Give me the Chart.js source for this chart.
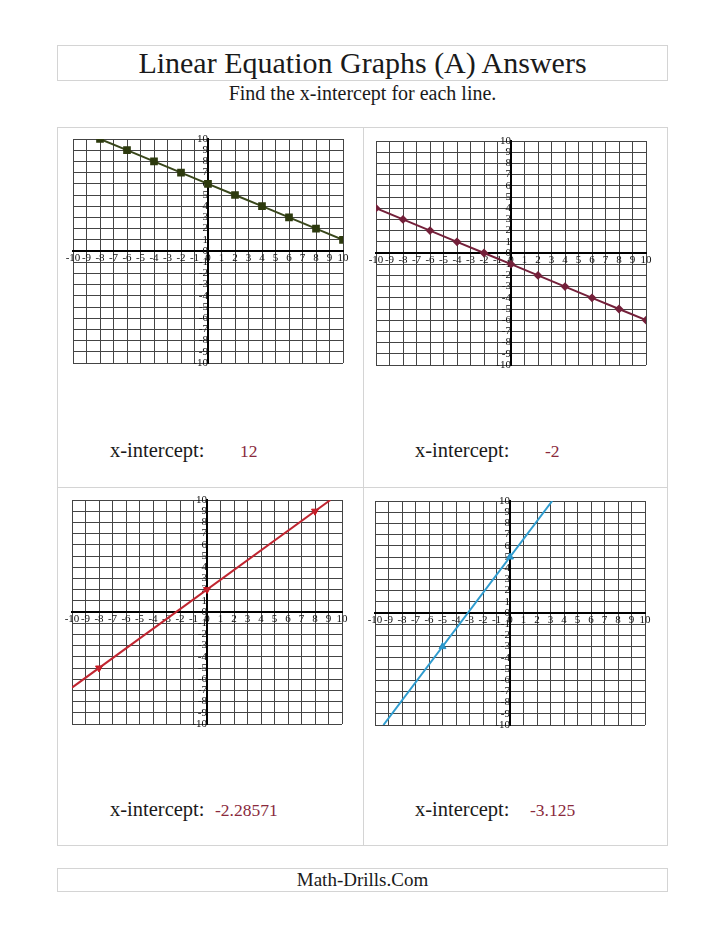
<!DOCTYPE html>
<html lang="en">
<head>
  <meta charset="UTF-8" />
  <title>Linear Equation Graphs (A) Answers</title>
  <script src="https://cdn.jsdelivr.net/npm/chart.js"></script>
  <style>
    body {
      margin: 0;
      background: #ffffff;
      font-family: "Liberation Serif", serif;
      color: #1a1a1a;
    }
    .page {
      position: relative;
      width: 728px;
      height: 942px;
      overflow: hidden;
    }
    .box {
      position: absolute;
      border: 1px solid #d4d4d4;
      box-sizing: border-box;
    }
    .title {
      left: 57px; top: 45px; width: 611px; height: 36px;
      text-align: center;
      font-size: 30px;
      line-height: 34px;
    }
    .subtitle {
      position: absolute;
      left: 57px; width: 611px; top: 82px;
      text-align: center;
      font-size: 20px;
    }
    .grid-box { left: 57px; top: 127px; width: 611px; height: 719px; }
    .vline { position: absolute; left: 363px; top: 127px; width: 1px; height: 719px; background: #d4d4d4; }
    .hline { position: absolute; left: 57px; top: 487px; width: 611px; height: 1px; background: #d4d4d4; }
    .footer {
      left: 57px; top: 868px; width: 611px; height: 24px;
      text-align: center;
      font-size: 19px;
      line-height: 22px;
    }
    .label {
      position: absolute;
      font-size: 20.5px;
    }
    .answer {
      position: absolute;
      font-size: 17.5px;
      color: #8a2a3c;
    }
    canvas { position: absolute; }
  </style>
</head>
<body>
  <div class="page">
    <div class="box title">Linear Equation Graphs (A) Answers</div>
    <div class="subtitle">Find the x-intercept for each line.</div>
    <div class="box grid-box"></div>
    <div class="vline"></div>
    <div class="hline"></div>

    <canvas id="c1" width="290" height="244" style="left:63px; top:129px;"></canvas>
    <canvas id="c2" width="290" height="244" style="left:366px; top:131px;"></canvas>
    <canvas id="c3" width="290" height="244" style="left:62px; top:490px;"></canvas>
    <canvas id="c4" width="290" height="244" style="left:365px; top:491px;"></canvas>

    <div class="label" style="left:110px; top:439px;">x-intercept:</div>
    <div class="answer" style="left:240px; top:441px;">12</div>
    <div class="label" style="left:415px; top:439px;">x-intercept:</div>
    <div class="answer" style="left:545px; top:441px;">-2</div>
    <div class="label" style="left:110px; top:798px;">x-intercept:</div>
    <div class="answer" style="left:215px; top:800px;">-2.28571</div>
    <div class="label" style="left:415px; top:798px;">x-intercept:</div>
    <div class="answer" style="left:530px; top:800px;">-3.125</div>

    <div class="box footer">Math-Drills.Com</div>
  </div>

  <script>
    // axis range shared by all four grids
    const axisMin = -10;
    const axisMax = 10;

    // graph A : y = -x/2 + 6
    const g1X = [-8, -6, -4, -2, 0, 2, 4, 6, 8, 10];
    const g1Y = [10, 9, 8, 7, 6, 5, 4, 3, 2, 1];

    // graph B : y = -x/2 - 1
    const g2X = [-10, -8, -6, -4, -2, 0, 2, 4, 6, 8, 10];
    const g2Y = [4, 3, 2, 1, 0, -1, -2, -3, -4, -5, -6];

    // graph C : y = 7x/8 + 2 (marked points, then line ends at the grid edge)
    const g3X = [-8, 0, 8];
    const g3Y = [-5, 2, 9];
    const g3LineX = [-10, 9.14];
    const g3LineY = [-6.75, 10];

    // graph D : y = 8x/5 + 5
    const g4X = [-5, 0];
    const g4Y = [-3, 5];
    const g4LineX = [-9.375, 3.125];
    const g4LineY = [-10, 10];

    const toPts = (xs, ys) => xs.map((x, i) => ({ x: x, y: ys[i] }));

    function axis(pos) {
      return {
        type: 'linear',
        min: axisMin,
        max: axisMax,
        position: pos,
        ticks: {
          stepSize: 1,
          autoSkip: false,
          maxRotation: 0,
          padding: 1,
          color: '#111',
          font: { family: 'Liberation Serif', size: 11 }
        },
        grid: {
          color: ctx => ctx.tick && ctx.tick.value === 0 ? '#000' : '#444',
          lineWidth: ctx => ctx.tick && ctx.tick.value === 0 ? 2 : 1,
          drawTicks: false
        },
        border: { display: true, color: '#000', width: 2 }
      };
    }

    function makeGraph(id, datasets) {
      new Chart(document.getElementById(id), {
        type: 'scatter',
        data: { datasets: datasets },
        options: {
          responsive: false,
          animation: false,
          layout: { padding: 10 },
          plugins: { legend: { display: false }, tooltip: { enabled: false } },
          scales: {
            x: axis({ y: 0 }),
            y: axis({ x: 0 })
          }
        }
      });
    }

    makeGraph('c1', [{
      data: toPts(g1X, g1Y),
      showLine: true,
      borderColor: '#38461a',
      borderWidth: 2,
      pointStyle: 'rect',
      pointRadius: 4,
      pointBackgroundColor: '#2d3a0e',
      pointBorderColor: '#2d3a0e'
    }]);

    makeGraph('c2', [{
      data: toPts(g2X, g2Y),
      showLine: true,
      borderColor: '#74203a',
      borderWidth: 2,
      pointStyle: 'rectRot',
      pointRadius: 3,
      pointBackgroundColor: '#74203a',
      pointBorderColor: '#74203a'
    }]);

    makeGraph('c3', [{
      data: toPts(g3LineX, g3LineY),
      showLine: true,
      borderColor: '#c02530',
      borderWidth: 2,
      pointRadius: 0
    }, {
      data: toPts(g3X, g3Y),
      pointStyle: 'triangle',
      rotation: 180,
      pointRadius: 4,
      pointBackgroundColor: '#c8161f',
      pointBorderColor: '#c8161f'
    }]);

    makeGraph('c4', [{
      data: toPts(g4LineX, g4LineY),
      showLine: true,
      borderColor: '#2f9ccf',
      borderWidth: 2,
      pointRadius: 0
    }, {
      data: toPts(g4X, g4Y),
      pointStyle: 'triangle',
      pointRadius: 4,
      pointBackgroundColor: '#2690c4',
      pointBorderColor: '#2690c4'
    }]);
  </script>
</body>
</html>
